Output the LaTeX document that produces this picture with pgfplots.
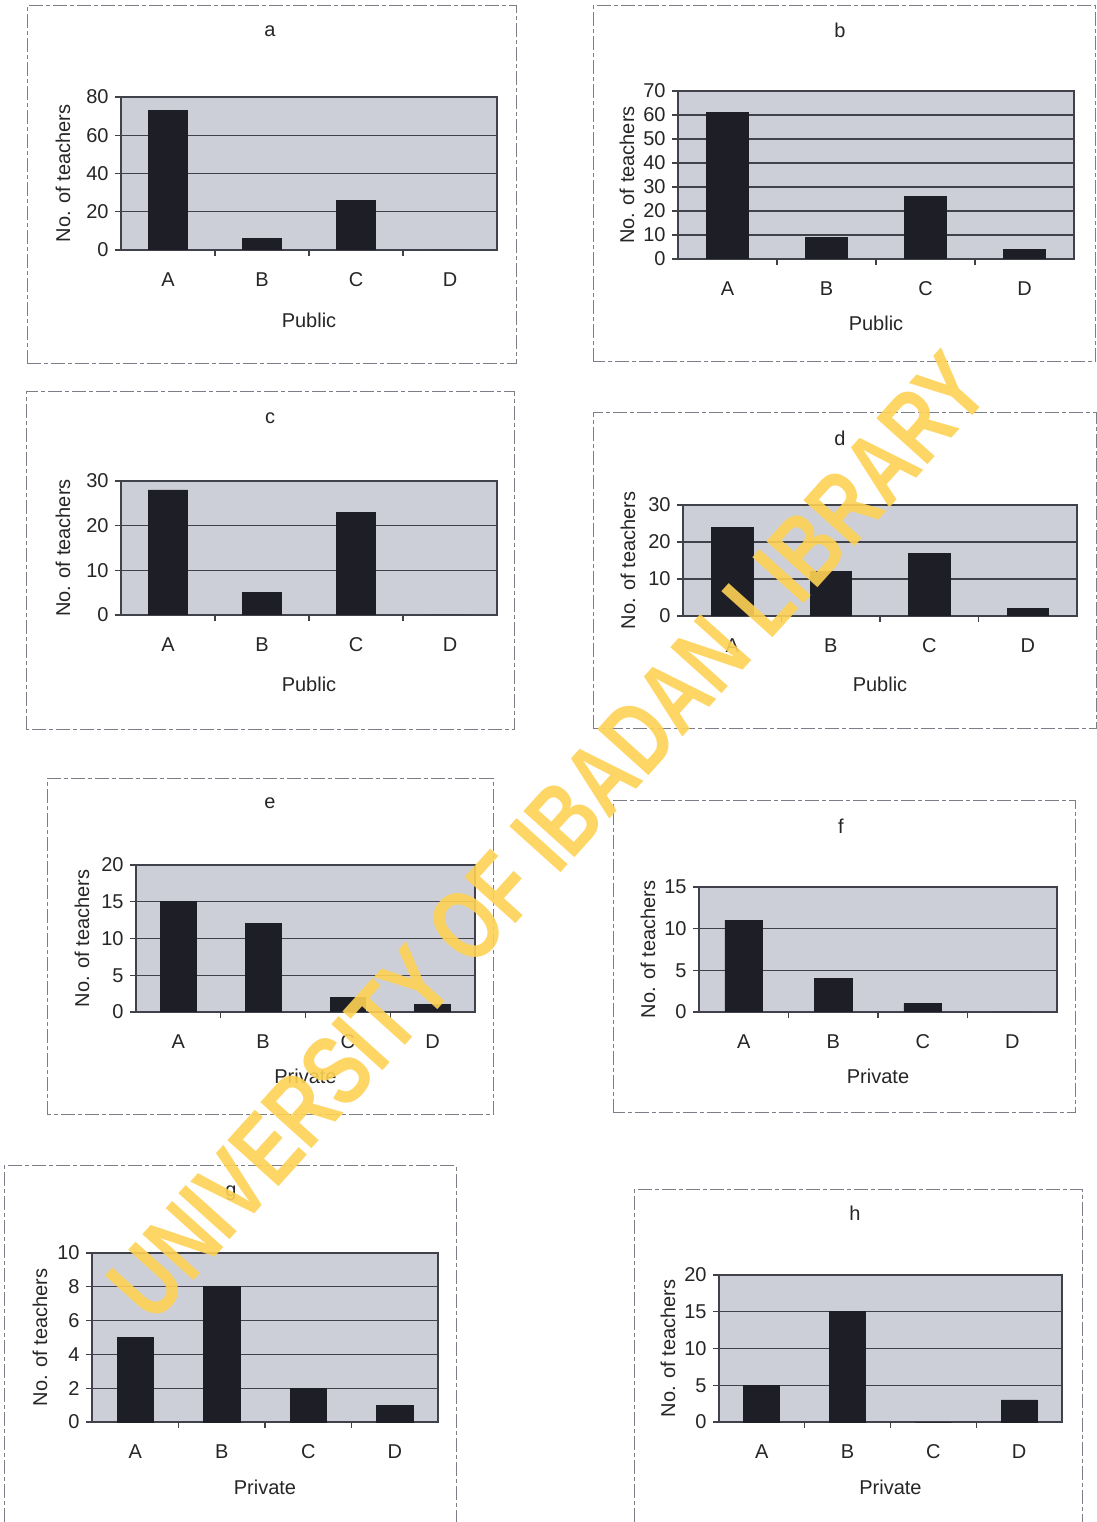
\documentclass[border=0pt]{standalone}
\usepackage{fontspec}
\setmainfont{Liberation Sans}
\usepackage{pgfplots}
\pgfplotsset{compat=1.18}
\definecolor{plotbg}{RGB}{205,207,216}
\definecolor{barc}{RGB}{30,30,38}
\definecolor{gridc}{RGB}{65,65,75}
\definecolor{framec}{RGB}{125,125,135}
\definecolor{wm}{RGB}{253,210,85}
\pgfplotsset{
  excel/.style={
    scale only axis, anchor=south west,
    xmin=-0.5, xmax=3.5, ymin=0,
    xtick={0,1,2,3}, xticklabels={A,B,C,D},
    minor x tick num=1,
    xtick pos=bottom, ytick pos=left,
    every major x tick/.append style={draw=none},
    tick align=outside, major tick length=3pt, minor tick length=3pt,
    axis background/.style={fill=plotbg},
    ymajorgrids, grid style={gridc, line width=0.6pt},
    axis line style={gridc, line width=0.6pt},
    tick style={gridc, line width=0.6pt},
    /pgf/number format/assume math mode=true,
    ticklabel style={font=\fontsize{10}{12}\selectfont, text=black!85},
    label style={font=\fontsize{10}{12}\selectfont, text=black!85},
    xticklabel style={anchor=center, yshift=-12pt},
    yticklabel style={inner sep=1pt, xshift=-2pt},
    ylabel={No. of teachers},
  },
  ylab/.style={ylabel style={at={([xshift=-#1]axis description cs:0,0.5)}, anchor=center}},
  xlab/.style={xlabel style={at={([yshift=-#1]axis description cs:0.5,0)}, anchor=center}},
  bars/.style={ybar, bar width=0.42, fill=barc, draw=barc, bar shift=0pt},
}
\begin{document}
\begin{tikzpicture}
\path[use as bounding box, fill=white] (0,0) rectangle (548.5pt,761pt);
% frames
\begin{scope}[framec, line width=0.5pt, dash pattern=on 7pt off 1.5pt on 2pt off 1.5pt]
\draw (13.5pt,579pt) rectangle (258pt,758pt);
\draw (296.5pt,580pt) rectangle (547.5pt,758pt);
\draw (13pt,396pt) rectangle (257pt,565pt);
\draw (296.5pt,396.5pt) rectangle (548pt,554.5pt);
\draw (23.5pt,203.5pt) rectangle (246.5pt,371.5pt);
\draw (306.5pt,204.5pt) rectangle (537.5pt,360.5pt);
\draw (2pt,0pt) -- (2pt,178pt) -- (228pt,178pt) -- (228pt,0pt);
\draw (317pt,0pt) -- (317pt,166pt) -- (541pt,166pt) -- (541pt,0pt);
\end{scope}
% titles
\begin{scope}[font=\fontsize{10}{12}\selectfont, text=black!85]
\node at (135pt,745.5pt) {a};
\node at (420pt,746pt) {b};
\node at (135pt,552pt) {c};
\node at (420pt,542pt) {d};
\node at (135pt,359.5pt) {e};
\node at (420.5pt,348pt) {f};
\node at (115.5pt,164.5pt) {g};
\node at (427.5pt,154.5pt) {h};
\end{scope}
% a
\begin{axis}[excel, at={(60.5pt,636pt)}, width=188pt, height=76.5pt,
  ymax=80, ytick={0,20,40,60,80}, xlabel={Public}, ylab=29pt, xlab=35pt]
\addplot[bars] coordinates {(0,73) (1,6) (2,26) (3,0)};
\end{axis}
% b
\begin{axis}[excel, at={(339pt,631.5pt)}, width=198pt, height=84pt,
  ymax=70, ytick={0,10,...,70}, xlabel={Public}, ylab=25.5pt, xlab=32pt]
\addplot[bars] coordinates {(0,61) (1,9) (2,26) (3,4)};
\end{axis}
% c
\begin{axis}[excel, at={(60.5pt,453.5pt)}, width=188pt, height=67pt,
  ymax=30, ytick={0,10,20,30}, xlabel={Public}, ylab=29pt, xlab=34.5pt]
\addplot[bars] coordinates {(0,28) (1,5) (2,23) (3,0)};
\end{axis}
% d
\begin{axis}[excel, at={(341.5pt,453pt)}, width=197pt, height=55.5pt,
  ymax=30, ytick={0,10,20,30}, xlabel={Public}, ylab=27.5pt, xlab=34pt]
\addplot[bars] coordinates {(0,24) (1,12) (2,17) (3,2)};
\end{axis}
% e
\begin{axis}[excel, at={(68pt,255pt)}, width=169.5pt, height=73.5pt,
  ymax=20, ytick={0,5,10,15,20}, xlabel={Private}, ylab=27pt, xlab=32pt]
\addplot[bars] coordinates {(0,15) (1,12) (2,2) (3,1)};
\end{axis}
% f
\begin{axis}[excel, at={(349.5pt,255pt)}, width=179pt, height=62.5pt,
  ymax=15, ytick={0,5,10,15}, xlabel={Private}, ylab=25.5pt, xlab=32pt]
\addplot[bars] coordinates {(0,11) (1,4) (2,1) (3,0)};
\end{axis}
% g
\begin{axis}[excel, at={(46pt,50pt)}, width=173pt, height=84.5pt,
  ymax=10, ytick={0,2,4,6,8,10}, xlabel={Private}, ylab=26pt, xlab=32.5pt]
\addplot[bars] coordinates {(0,5) (1,8) (2,2) (3,1)};
\end{axis}
% h
\begin{axis}[excel, at={(359.5pt,50pt)}, width=171.5pt, height=73.5pt,
  ymax=20, ytick={0,5,10,15,20}, xlabel={Private}, ylab=25.5pt, xlab=32.5pt]
\addplot[bars] coordinates {(0,5) (1,15) (2,0) (3,3)};
\end{axis}
% watermark
\node[text=wm, opacity=0.9, rotate=48, xscale=0.76, font=\bfseries\fontsize{50}{50}\selectfont]
  at (274pt,343pt) {UNIVERSITY OF IBADAN LIBRARY};
\end{tikzpicture}
\end{document}
